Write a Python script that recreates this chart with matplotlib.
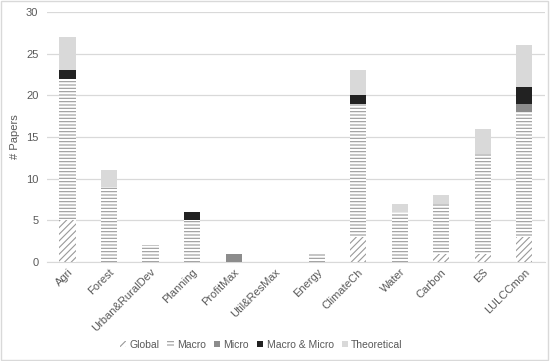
import matplotlib
matplotlib.use("Agg")
import matplotlib.pyplot as plt
import numpy as np
from matplotlib.patches import Rectangle, Patch

categories = ["Agri", "Forest", "Urban&RuralDev", "Planning", "ProfitMax",
              "Util&ResMax", "Energy", "ClimateCh", "Water", "Carbon", "ES",
              "LULCCmon"]
global_ = [5, 0, 0, 0, 0, 0, 0, 3, 0, 1, 1, 3]
macro = [17, 9, 2, 5, 0, 0, 1, 16, 6, 6, 12, 15]
micro = [0, 0, 0, 0, 1, 0, 0, 0, 0, 0, 0, 1]
macro_micro = [1, 0, 0, 1, 0, 0, 0, 1, 0, 0, 0, 2]
theoretical = [4, 2, 0, 0, 0, 0, 0, 3, 1, 1, 3, 5]

series = [
    ("Global", global_, dict(facecolor="white", hatch="/////")),
    ("Macro", macro, dict(facecolor="white", hatch="-----")),
    ("Micro", micro, dict(facecolor="#8c8c8c")),
    ("Macro & Micro", macro_micro, dict(facecolor="#222222")),
    ("Theoretical", theoretical, dict(facecolor="#d9d9d9")),
]

plt.rcParams["font.family"] = ["Liberation Sans", "DejaVu Sans"]
plt.rcParams["hatch.color"] = "#9a9a9a"
plt.rcParams["hatch.linewidth"] = 0.8
txt = "#595959"

fig = plt.figure(figsize=(5.5, 3.61), dpi=100)
ax = fig.add_axes([0.085, 0.274, 0.906, 0.693])
x = np.arange(len(categories))
bottom = np.zeros(len(categories))
handles = []
for name, vals, style in series:
    vals = np.array(vals, dtype=float)
    ax.bar(x, vals, 0.39, bottom=bottom, edgecolor="#9a9a9a", linewidth=0,
           zorder=3, **style)
    bottom += vals
    handles.append(Patch(edgecolor="#9a9a9a", linewidth=0, label=name, **style))

ax.set_xlim(-0.5, len(categories) - 0.5)
ax.set_ylim(0, 30)
ax.set_yticks(range(0, 31, 5))
ax.grid(axis="y", color="#d9d9d9", linewidth=0.9, zorder=0)
for s in ["top", "right", "left"]:
    ax.spines[s].set_visible(False)
ax.spines["bottom"].set_color("#d9d9d9")
ax.tick_params(axis="both", length=0, colors=txt, labelsize=8)
ax.tick_params(axis="y", pad=6)
ax.set_xticks(x)
ax.set_xticklabels(categories, rotation=45, ha="right", rotation_mode="anchor")
ax.set_ylabel("# Papers", color=txt, fontsize=8, labelpad=4)

fig.legend(handles=handles, loc="center", bbox_to_anchor=(0.475, 0.045), ncol=5,
           frameon=False, fontsize=7.5, labelcolor=txt, handlelength=0.6,
           handleheight=0.6, handletextpad=0.3, columnspacing=0.8)

fig.patches.append(Rectangle((0.002, 0.003), 0.995, 0.994, transform=fig.transFigure,
                             fill=False, edgecolor="#d9d9d9", linewidth=1))
fig.savefig("out.png", dpi=100)
